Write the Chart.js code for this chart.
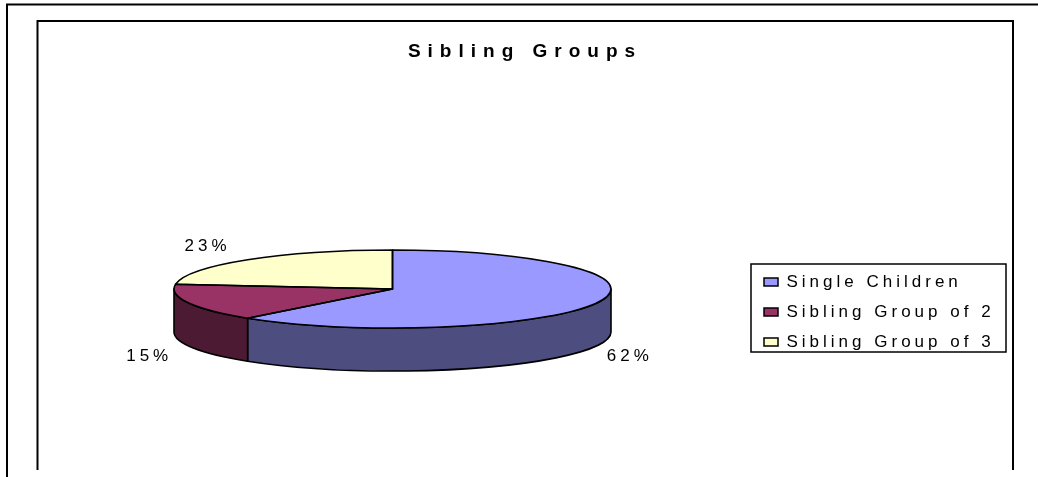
<!DOCTYPE html>
<html><head><meta charset="utf-8">
<style>html,body{margin:0;padding:0;background:#fff}canvas{display:block}</style>
<script src="https://cdn.jsdelivr.net/npm/chart.js@4"></script>
</head><body>
<canvas id="c" width="1038" height="477" style="width:1038px;height:477px"></canvas>
<script>
const categories = ['Single Children', 'Sibling Group of 2', 'Sibling Group of 3'];
const values = [8, 2, 3];
const topColors = ['#9999FF', '#993366', '#FFFFCC'];
const wallColors = ['#4D4D80', '#4D1A33', '#808066'];
const chartTitle = 'Sibling Groups';

const FONT = '"Liberation Sans", Arial, sans-serif';
const PIE = {cx: 392.5, cy: 289, rx: 218.5, ry: 39, depth: 43};
const LABEL_NUDGE = [[33, 53], [-39, 53], [-40, -13]];

function toEllipse(ctx, el) {
  const r = el.outerRadius;
  ctx.translate(PIE.cx, PIE.cy);
  ctx.scale(PIE.rx / r, PIE.ry / r);
  ctx.translate(-el.x, -el.y);
}

const pie3d = {
  id: 'pie3d',
  afterLayout(chart) {
    const t = chart.titleBlock, l = chart.legend;
    t.left = 37; t.right = 1013; t.width = 976; t.top = 40; t.bottom = 63;
    l.left = 751; l.top = 260.5; l.right = 1006; l.bottom = 372; l.width = 255; l.height = 111.5;
    if (!t._spaced) {
      const d = t.draw;
      t.draw = function () {
        const c = this.ctx; const p = c.letterSpacing;
        c.letterSpacing = '7px'; d.call(this); c.letterSpacing = p;
      };
      t._spaced = true;
    }
  },
  beforeDraw(chart) {
    const c = chart.ctx;
    c.letterSpacing = '4px';
    c.save();
    c.strokeStyle = '#000';
    c.lineWidth = 2;
    c.beginPath();
    c.moveTo(7, 477); c.lineTo(7, 4.5); c.lineTo(1038, 4.5);
    c.stroke();
    c.beginPath();
    c.moveTo(37.5, 470); c.lineTo(37.5, 21); c.lineTo(1013, 21); c.lineTo(1013, 470);
    c.stroke();
    c.restore();
  },
  beforeDatasetsDraw(chart) {
    const c = chart.ctx, arcs = chart.getDatasetMeta(0).data;
    c.save();
    c.lineWidth = 1.6; c.strokeStyle = '#000'; c.lineJoin = 'round';
    arcs.forEach((el, i) => {
      const a0 = Math.max(el.startAngle, 0), a1 = Math.min(el.endAngle, Math.PI);
      if (a1 <= a0) return;
      c.beginPath();
      c.ellipse(PIE.cx, PIE.cy, PIE.rx, PIE.ry, 0, a0, a1);
      c.ellipse(PIE.cx, PIE.cy + PIE.depth, PIE.rx, PIE.ry, 0, a1, a0, true);
      c.closePath();
      c.fillStyle = wallColors[i];
      c.fill(); c.stroke();
    });
    c.restore();
  },
  beforeDatasetDraw(chart) {
    const c = chart.ctx, el = chart.getDatasetMeta(0).data[0];
    c.save();
    toEllipse(c, el);
  },
  afterDatasetDraw(chart) {
    chart.ctx.restore();
  },
  afterDatasetsDraw(chart) {
    const c = chart.ctx, arcs = chart.getDatasetMeta(0).data;
    const total = values.reduce((a, b) => a + b, 0);
    c.save();
    c.lineWidth = 1.6; c.strokeStyle = '#000'; c.lineJoin = 'round';
    arcs.forEach(el => {
      c.save();
      toEllipse(c, el);
      c.beginPath();
      c.moveTo(el.x, el.y);
      c.arc(el.x, el.y, el.outerRadius, el.startAngle, el.endAngle);
      c.closePath();
      c.restore();
      c.stroke();
    });
    c.font = '17px ' + FONT;
    c.fillStyle = '#000';
    c.textAlign = 'center';
    c.textBaseline = 'middle';
    arcs.forEach((el, i) => {
      const m = (el.startAngle + el.endAngle) / 2;
      const x = PIE.cx + PIE.rx * Math.cos(m) + LABEL_NUDGE[i][0];
      const y = PIE.cy + PIE.ry * Math.sin(m) + LABEL_NUDGE[i][1];
      c.fillText(Math.round(values[i] / total * 100) + '%', x, y);
    });
    c.restore();
  },
  afterDraw(chart) {
    const c = chart.ctx, l = chart.legend;
    c.save();
    c.strokeStyle = '#000';
    c.lineWidth = 1.5;
    c.strokeRect(l.left, l.top + 3.5, l.right - l.left, 88);
    c.restore();
  }
};

new Chart(document.getElementById('c'), {
  type: 'pie',
  data: {
    labels: categories,
    datasets: [{data: values, backgroundColor: topColors, borderWidth: 0}]
  },
  options: {
    responsive: false,
    animation: false,
    plugins: {
      tooltip: {enabled: false},
      title: {
        display: true, text: chartTitle, color: '#000', padding: 0,
        font: {family: FONT, size: 19, weight: 'bold'}
      },
      legend: {
        display: true, position: 'right', align: 'start',
        labels: {
          color: '#000', boxWidth: 14, boxHeight: 8, padding: 13,
          font: {family: FONT, size: 17},
          generateLabels(chart) {
            return categories.map((t, i) => ({
              text: t, fillStyle: topColors[i], strokeStyle: '#000', lineWidth: 1.5,
              hidden: false, index: i
            }));
          }
        }
      }
    }
  },
  plugins: [pie3d]
});
</script>
</body></html>
